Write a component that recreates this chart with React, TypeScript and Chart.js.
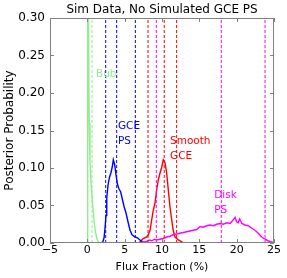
import React, { useEffect, useRef } from 'react';
import { Chart, registerables } from 'chart.js';

Chart.register(...registerables);

const xTickValues = [-5, 0, 5, 10, 15, 20, 25];
const yTickValues = [0, 0.05, 0.1, 0.15, 0.2, 0.25, 0.3];

const bubFlux = [0, 0.05, 0.15, 0.25, 0.35, 0.5, 0.7, 0.9, 1.1, 1.3, 1.5, 1.7];
const bubProb = [0, 0.6, 0.3, 0.16, 0.11, 0.08, 0.052, 0.03, 0.014, 0.005, 0.001, 0];

const gceFlux = [1.8, 2.06, 2.24, 2.37, 2.5, 2.6, 2.77, 2.95, 3.17, 3.35, 3.48, 3.67, 3.84, 4.02, 4.2, 4.47, 4.65, 4.91, 5.18, 5.45, 5.72, 5.99, 6.39, 6.7, 7.05, 7.5, 7.95];
const gceProb = [0, 0.001, 0.007, 0.02, 0.037, 0.06, 0.077, 0.087, 0.094, 0.102, 0.111, 0.104, 0.091, 0.079, 0.073, 0.068, 0.06, 0.049, 0.04, 0.028, 0.017, 0.011, 0.008, 0.007, 0.004, 0.001, 0];

const smoothFlux = [6.9, 7.28, 7.5, 7.95, 8.17, 8.4, 8.62, 8.84, 9.06, 9.29, 9.5, 9.73, 9.96, 10.17, 10.4, 10.63, 10.84, 11.07, 11.3, 11.5, 11.74, 12.2, 12.6, 12.85];
const smoothProb = [0, 0.004, 0.006, 0.008, 0.011, 0.017, 0.031, 0.044, 0.053, 0.071, 0.084, 0.093, 0.101, 0.111, 0.107, 0.093, 0.071, 0.048, 0.031, 0.017, 0.008, 0.004, 0.002, 0];

const diskFlux = [0, 7.0, 7.5, 7.95, 8.3, 8.62, 9.0, 9.29, 9.73, 10.17, 10.63, 11.07, 11.5, 11.97, 12.4, 12.85, 13.3, 13.75, 14.2, 14.65, 15.1, 15.5, 16.0, 16.4, 16.9, 17.3, 17.8, 18.2, 18.7, 19.1, 19.55, 19.8, 20.0, 20.2, 20.4, 20.7, 21.1, 21.55, 22.0, 22.45, 22.9, 23.35, 23.8, 24.2, 24.7, 25.0];
const diskProb = [0, 0, 0.001, 0.002, 0.004, 0.003, 0.005, 0.004, 0.005, 0.006, 0.008, 0.009, 0.011, 0.012, 0.013, 0.014, 0.015, 0.016, 0.017, 0.018, 0.022, 0.021, 0.023, 0.024, 0.023, 0.025, 0.026, 0.025, 0.027, 0.026, 0.031, 0.034, 0.028, 0.027, 0.032, 0.026, 0.024, 0.023, 0.02, 0.017, 0.013, 0.008, 0.005, 0.003, 0.001, 0.001];

const bubLines = [0.03, 0.63];
const gceLines = [2.46, 3.93, 6.43];
const smoothLines = [8.13, 10.3, 11.96];
const diskLines = [9.24, 17.94, 23.8];

const GREEN = '#90ee90';
const BLUE = '#0000ff';
const RED = '#ff0000';
const MAGENTA = '#ff00ff';

const labels = [
  { text: 'Bub', x: 1.16, y: 0.225, color: GREEN },
  { text: 'GCE', x: 4.1, y: 0.155, color: BLUE },
  { text: 'PS', x: 4.1, y: 0.135, color: BLUE },
  { text: 'Smooth', x: 11.07, y: 0.135, color: RED },
  { text: 'GCE', x: 11.07, y: 0.116, color: RED },
  { text: 'Disk', x: 17.0, y: 0.064, color: MAGENTA },
  { text: 'PS', x: 17.0, y: 0.044, color: MAGENTA },
];

const FONT = 'DejaVu Sans';

function curve(xs: number[], ys: number[], color: string) {
  return {
    data: xs.map((x, i) => ({ x, y: ys[i] })),
    borderColor: color,
    borderWidth: 1.4,
    pointRadius: 0,
    fill: false,
    tension: 0,
  };
}

function vlines(xs: number[], color: string) {
  return xs.map((x) => ({
    data: [{ x, y: 0 }, { x, y: 0.3 }],
    borderColor: color,
    borderWidth: 1,
    borderDash: [3, 2],
    pointRadius: 0,
    fill: false,
  }));
}

const framePlugin = {
  id: 'frame',
  afterDatasetsDraw(chart: any) {
    const { ctx, chartArea } = chart;
    const xs = chart.scales.x;
    const ys = chart.scales.y;
    ctx.save();
    ctx.strokeStyle = '#808080';
    ctx.lineWidth = 1;
    ctx.strokeRect(chartArea.left + 0.5, chartArea.top + 0.5, chartArea.right - chartArea.left - 1, chartArea.bottom - chartArea.top - 1);
    ctx.beginPath();
    const tl = 4;
    xTickValues.forEach((v) => {
      const px = Math.round(xs.getPixelForValue(v)) + 0.5;
      ctx.moveTo(px, chartArea.bottom);
      ctx.lineTo(px, chartArea.bottom - tl);
      ctx.moveTo(px, chartArea.top);
      ctx.lineTo(px, chartArea.top + tl);
    });
    yTickValues.forEach((v) => {
      const py = Math.round(ys.getPixelForValue(v)) + 0.5;
      ctx.moveTo(chartArea.left, py);
      ctx.lineTo(chartArea.left + tl, py);
      ctx.moveTo(chartArea.right, py);
      ctx.lineTo(chartArea.right - tl, py);
    });
    ctx.stroke();
    ctx.restore();
  },
  afterDraw(chart: any) {
    const { ctx, chartArea } = chart;
    const xs = chart.scales.x;
    const ys = chart.scales.y;
    ctx.save();
    ctx.font = `12px "${FONT}"`;
    ctx.fillStyle = '#000';
    ctx.textAlign = 'center';
    ctx.textBaseline = 'middle';
    ctx.fillText('Sim Data, No Simulated GCE PS', (chartArea.left + chartArea.right) / 2, 10);
    ctx.font = `10.5px "${FONT}"`;
    ctx.textAlign = 'left';
    labels.forEach((l) => {
      ctx.fillStyle = l.color;
      ctx.fillText(l.text, xs.getPixelForValue(l.x), ys.getPixelForValue(l.y));
    });
    ctx.restore();
  },
};

export default function App() {
  const ref = useRef<HTMLCanvasElement | null>(null);
  useEffect(() => {
    if (!ref.current) return;
    const chart = new Chart(ref.current, {
      type: 'line',
      data: {
        datasets: [
          ...vlines(bubLines, GREEN),
          ...vlines(gceLines, BLUE),
          ...vlines(smoothLines, RED),
          ...vlines(diskLines, MAGENTA),
          curve(diskFlux, diskProb, MAGENTA),
          curve(bubFlux, bubProb, GREEN),
          curve(gceFlux, gceProb, BLUE),
          curve(smoothFlux, smoothProb, RED),
        ] as any,
      },
      options: {
        animation: false,
        responsive: false,
        maintainAspectRatio: false,
        layout: { padding: { top: 18, right: 13, left: 0, bottom: 0 } },
        plugins: {
          legend: { display: false },
          tooltip: { enabled: false },
          title: { display: false },
        },
        scales: {
          x: {
            type: 'linear',
            min: -5,
            max: 25,
            afterBuildTicks: (s: any) => {
              s.ticks = xTickValues.map((v) => ({ value: v }));
            },
            ticks: {
              color: '#000',
              font: { family: FONT, size: 11 },
              padding: 1,
              maxRotation: 0,
              callback: (v: any) => (v < 0 ? '\u2212' + Math.abs(v) : String(v)),
            },
            grid: { display: false, drawTicks: false },
            border: { display: false },
            title: {
              display: true,
              text: 'Flux Fraction (%)',
              color: '#000',
              font: { family: FONT, size: 11 },
              padding: { top: 0, bottom: 4.4 },
            },
            afterFit: (s: any) => {
              s.height = 35;
              s.paddingLeft = 0;
              s.paddingRight = 0;
            },
          },
          y: {
            type: 'linear',
            min: 0,
            max: 0.3,
            afterBuildTicks: (s: any) => {
              s.ticks = yTickValues.map((v) => ({ value: v }));
            },
            ticks: {
              color: '#000',
              font: { family: FONT, size: 12 },
              padding: 5,
              callback: (v: any) => Number(v).toFixed(2),
            },
            grid: { display: false, drawTicks: false },
            border: { display: false },
            title: {
              display: true,
              text: 'Posterior Probability',
              color: '#000',
              font: { family: FONT, size: 12 },
              padding: { top: 2.8, bottom: 0 },
            },
            afterFit: (s: any) => {
              s.width = 50;
              s.paddingTop = 0;
              s.paddingBottom = 0;
            },
          },
        },
      },
      plugins: [framePlugin],
    });
    return () => chart.destroy();
  }, []);
  return (
    <div style={{ position: 'absolute', left: 0, top: 0, width: 287, height: 278 }}>
      <canvas ref={ref} width={287} height={278} style={{ width: 287, height: 278 }} />
    </div>
  );
}
